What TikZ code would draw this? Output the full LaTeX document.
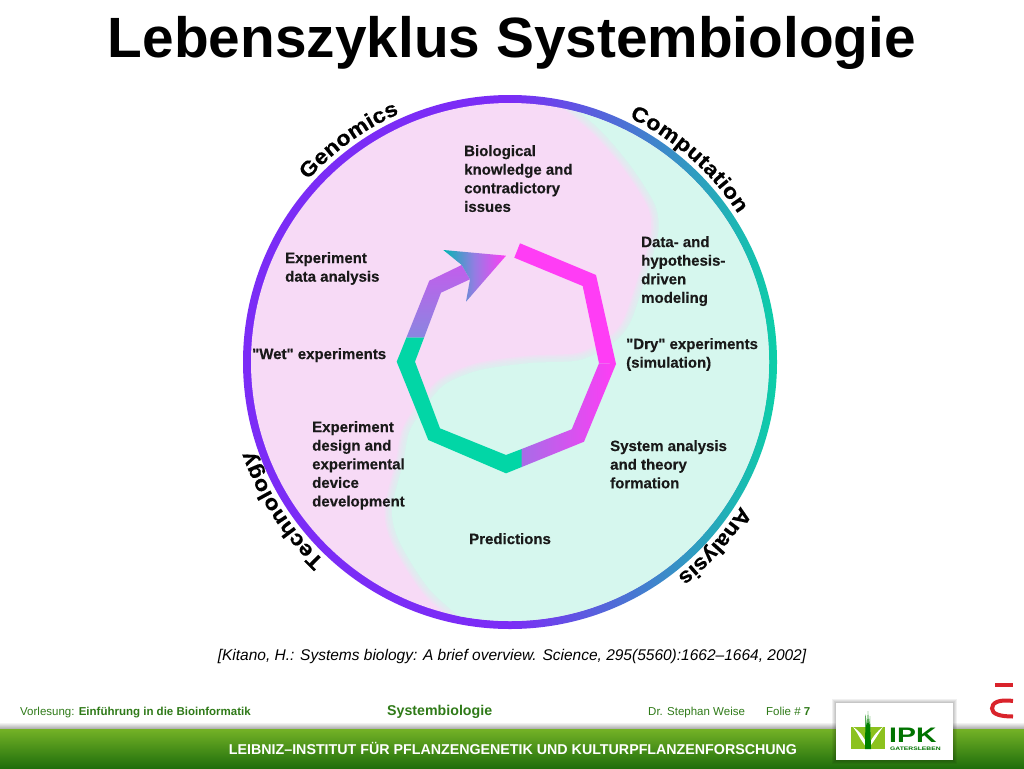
\documentclass[tikz,border=0pt]{standalone}
\usepackage{fontspec}
\setmainfont{Liberation Sans}[Ligatures=TeXOff]
\newfontfamily\curvefont{Liberation Sans}[FakeStretch=1.1,BoldFeatures={FakeBold=.5}]
\newfontfamily\labelfont{Liberation Sans}[Ligatures=TeXOff,BoldFeatures={FakeBold=.3}]
\newfontfamily\widefont{Liberation Sans}[FakeStretch=1.35]
\usetikzlibrary{decorations.text}
\definecolor{ringpurple}{HTML}{7B2CF6}
\definecolor{ringteal}{HTML}{0CCFA8}
\definecolor{discpink}{HTML}{F7DAF6}
\definecolor{discmint}{HTML}{D6F7EE}
\definecolor{arcpink}{HTML}{FF3DF5}
\definecolor{arcgreen}{HTML}{02D6A6}
\definecolor{arcmix}{HTML}{A86CE8}
\definecolor{arcblue}{HTML}{8A86E0}
\definecolor{footgreen}{HTML}{2F7A18}
\definecolor{bandlime}{HTML}{74B226}
\definecolor{banddark}{HTML}{1F6E0C}
\definecolor{logolime}{HTML}{8CC21E}
\definecolor{logored}{HTML}{D9232B}
\tikzset{
  steplabel/.style={anchor=north west,inner sep=0pt,align=left,font=\labelfont\fontsize{15}{18.6}\selectfont\bfseries,text=black!90},
  footlabel/.style={anchor=base west,inner sep=0pt,font=\fontsize{11.5}{13}\selectfont,text=footgreen},
  curvelabel/.style={decoration={text along path,text align=fit to path,text={|\curvefont\fontsize{21}{21}\selectfont\bfseries|#1}},decorate},
}
\begin{document}
\begin{tikzpicture}[x=1pt,y=1pt]
    \useasboundingbox (0,-768) rectangle (1024,0);
    \fill[white] (0,-768) rectangle (1024,0);
    \node[anchor=base,inner sep=0pt,font=\fontsize{56.8}{60}\selectfont\bfseries] (title) at (512,-58) {Lebenszyklus Systembiologie};
    % disc
    \shade[left color=ringpurple,right color=ringteal,middle color=ringpurple] (510,-362) circle (267);
    \fill[discpink] (510,-362) circle (259);
    \begin{scope}
        \clip (510,-362) circle (259);
        \fill[discmint] plot[smooth] coordinates {(470,-625) (430,-590) (400,-543) (392,-510) (403,-463) (410,-430) (430,-400) (447,-383) (480,-370) (530,-363) (580,-360) (613,-343) (630,-323) (645,-280) (658,-235) (655,-205) (630,-165) (600,-130) (565,-100)} -- (800,-90) -- (800,-640) -- cycle;
        \foreach \w in {3,6,9,12,15}
            \draw[discmint,line width=\w pt,opacity=.22] plot[smooth] coordinates {(470,-625) (430,-590) (400,-543) (392,-510) (403,-463) (410,-430) (430,-400) (447,-383) (480,-370) (530,-363) (580,-360) (613,-343) (630,-323) (645,-280) (658,-235) (655,-205) (630,-165) (600,-130) (565,-100)};
    \end{scope}
    % curved words
    \path[curvelabel=Genomics] (510,-362) ++(138:272) arc[start angle=138,end angle=114,radius=272];
    \path[curvelabel=Computation] (510,-362) ++(64:272) arc[start angle=64,end angle=33,radius=272];
    \path[curvelabel=Technology] (510,-362) ++(227:272) arc[start angle=227,end angle=199,radius=272];
    \path[curvelabel=Analysis] (510,-362) ++(-32:272) arc[start angle=-32,end angle=-52,radius=272];
    % cycle
    \fill[arcpink] (520,-243.3) -- (596,-275) -- (616,-364) -- (599,-363.3) -- (582.7,-286) -- (514.3,-257.7) -- cycle;
    \shade[left color=arcmix,right color=arcpink] (616,-364) -- (584,-441.7) -- (521.7,-467) -- (521.7,-449) -- (571.7,-429.3) -- (599,-363.3) -- cycle;
    \fill[arcgreen] (521.7,-467) -- (506,-473.3) -- (428.3,-440) -- (396.7,-361.7) -- (406.5,-337.3) -- (424.2,-337.3) -- (415,-361.7) -- (440,-428.3) -- (506,-455) -- (521.7,-449) -- cycle;
    \shade[bottom color=arcblue,top color=arcmix!70!arcpink] (406.5,-337.3) -- (429.3,-280.7) -- (461.7,-265) -- (470,-279.3) -- (441,-292.7) -- (424.2,-337.3) -- cycle;
    \shade[left color=arcgreen!85!blue,right color=arcpink,middle color=arcblue!60!arcmix] (443.3,-250) -- (506,-255.7) -- (466,-301.7) -- (470,-279.3) -- (461.7,-265) -- cycle;
    % labels
    \node[steplabel] (knowledge) at (464,-145) {Biological\\knowledge and\\contradictory\\issues};
    \node[steplabel] (analysis) at (285,-252) {Experiment\\data analysis};
    \node[steplabel] (wet) at (252,-348) {"Wet" experiments};
    \node[steplabel] (modeling) at (641,-236) {Data- and\\hypothesis-\\driven\\modeling};
    \node[steplabel] (dry) at (626,-338) {"Dry" experiments\\(simulation)};
    \node[steplabel] (theory) at (610,-440) {System analysis\\and theory\\formation};
    \node[steplabel] (design) at (312,-421) {Experiment\\design and\\experimental\\device\\development};
    \node[steplabel] (predictions) at (469,-533) {Predictions};
    \node[inner sep=0pt,font=\fontsize{15.5}{17}\selectfont\itshape] (cite) at (512,-656) {[Kitano, H.: Systems biology: A brief overview. Science, 295(5560):1662–1664, 2002]};
    % footer
    \shade[top color=white,bottom color=black!40] (0,-722) rectangle (1024,-730);
    \shade[top color=bandlime,bottom color=banddark] (0,-729) rectangle (1024,-768);
    \node[footlabel] (lecture) at (20,-715) {Vorlesung: \textbf{Einführung in die Bioinformatik}};
    \node[footlabel,font=\fontsize{14.2}{15}\selectfont\bfseries] (topic) at (387,-715) {Systembiologie};
    \node[footlabel] (speaker) at (648,-715) {Dr. Stephan Weise};
    \node[footlabel] (slide) at (766,-715) {Folie \# \textbf{7}};
    \node[inner sep=0pt,text=white,font=\fontsize{14.25}{16}\selectfont\bfseries] (institute) at (513,-748) {LEIBNIZ–INSTITUT FÜR PFLANZENGENETIK UND KULTURPFLANZENFORSCHUNG};
    % logos
    \foreach \g in {4,3,2,1}
        \fill[black,opacity=.06] (836-\g,-703+\g) rectangle (953+\g,-760-\g);
    \fill[white] (836,-703) rectangle (953,-760);
    \fill[logolime] (851,-727) rectangle (885,-749);
    \fill[white] (868,-749) .. controls (860,-740) and (858,-733) .. (853,-727) .. controls (861,-732) and (864,-738) .. (866,-742) -- (866,-727) -- (870,-727) -- (870,-742) .. controls (873,-737) and (876,-732) .. (883,-727) .. controls (878,-734) and (875,-740) .. cycle;
    \fill[green!50!black] (865,-749) -- (865.5,-714) -- (867,-727) -- (868,-711) -- (869,-727) -- (870,-716) -- (871,-749) -- cycle;
    \node[anchor=base west,inner sep=0pt,text=green!45!black,font=\widefont\fontsize{21}{21}\selectfont\bfseries] (ipk) at (889,-742) {IPK};
    \node[anchor=base west,inner sep=0pt,text=green!45!black,font=\widefont\fontsize{5}{5}\selectfont\bfseries] (gatersleben) at (890,-750) {GATERSLEBEN};
    \fill[logored] (995,-683) rectangle (1013,-687);
    \draw[logored,line width=4pt] (1013,-701) .. controls (998,-699) and (992,-703) .. (992,-708.5) .. controls (992,-714) and (1000,-716.5) .. (1013,-716.5);
\end{tikzpicture}
\end{document}
